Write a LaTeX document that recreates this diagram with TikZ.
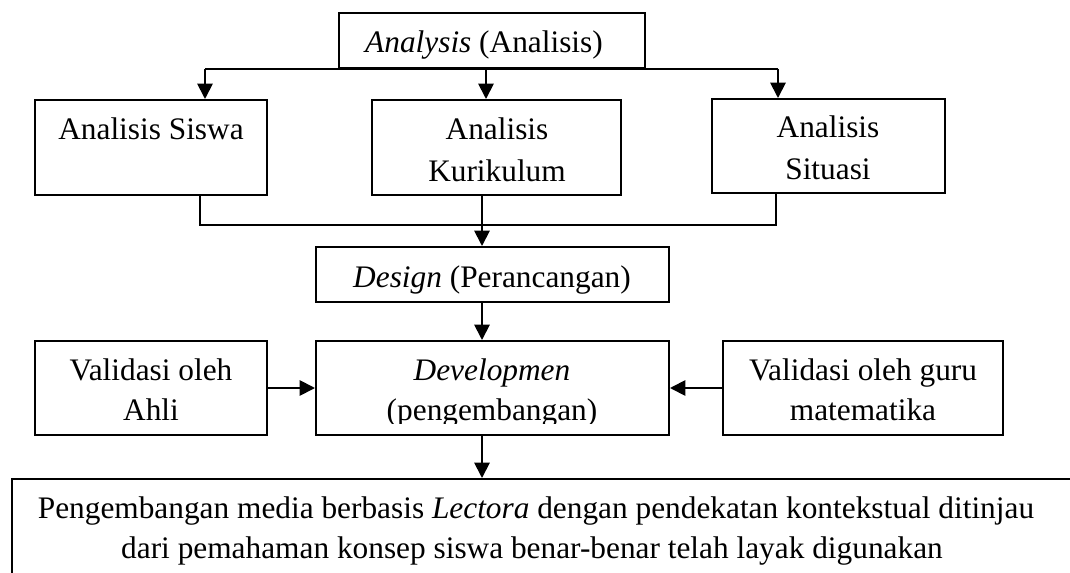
\documentclass[tikz,border=0pt]{standalone}
\usepackage{fontspec}
\setmainfont{Liberation Serif}
\usetikzlibrary{arrows.meta,fit}
\begin{document}
\begin{tikzpicture}[x=0.75pt,y=-0.75pt,
  box/.style={draw,line width=1.5pt,inner sep=0pt},
  txt/.style={inner sep=0pt,anchor=base,font=\fontsize{23.5}{30}\selectfont},
  ln/.style={line width=1.4pt},
  arr/.style={line width=1.4pt,-{Triangle[length=11.5pt,width=11.5pt]}}]
\useasboundingbox (0,0) rectangle (1070,573);
\clip (0,0) rectangle (1070,573);
% boxes
\node[box,fit={(339,13) (645,68)}] (an) {};
\node[box,fit={(35,100) (267,195)}] (siswa) {};
\node[box,fit={(372,100) (621,195)}] (kur) {};
\node[box,fit={(712,99) (945,193)}] (sit) {};
\node[box,fit={(316,247) (669,302)}] (des) {};
\node[box,fit={(35,341) (267,435)}] (ahli) {};
\node[box,fit={(316,341) (669,435)}] (dev) {};
\node[box,fit={(723,341) (1003,435)}] (guru) {};
\node[box,fit={(12,479) (1100,620)}] (bot) {};
% texts
\node[txt] (anT) at (484,53) {\textit{Analysis} (Analisis)};
\node[txt] (siswaT) at (151,140) {Analisis Siswa};
\node[txt] (kurA) at (497,140) {Analisis};
\node[txt] (kurB) at (497,182) {Kurikulum};
\node[txt] (sitA) at (828,138) {Analisis};
\node[txt] (sitB) at (828,180) {Situasi};
\node[txt] (desT) at (492,288) {\textit{Design} (Perancangan)};
\node[txt] (ahliA) at (151,380) {Validasi oleh};
\node[txt] (ahliB) at (151,420) {Ahli};
\node[txt] (devA) at (492,380) {\textit{Developmen}};
\begin{scope}
\clip (316,341) rectangle (669,423);
\node[txt] (devB) at (492,420) {(pengembangan)};
\end{scope}
\node[txt] (guruA) at (863,380) {Validasi oleh guru};
\node[txt] (guruB) at (863,420) {matematika};
\node[txt] (botA) at (536,518) {Pengembangan media berbasis \textit{Lectora} dengan pendekatan kontekstual ditinjau};
\node[txt] (botB) at (532,558) {dari pemahaman konsep siswa benar-benar telah layak digunakan};
% connectors
\coordinate (hl) at (205,69);
\coordinate (hk) at (486,69);
\coordinate (hr) at (778,69);
\draw[ln] (hl) -- (hr);
\draw[arr] (hl) -- (hl |- siswa.north);
\draw[arr] (hk) -- (hk |- kur.north);
\draw[arr] (hr) -- (hr |- sit.north);
\coordinate (ms) at (200,225);
\coordinate (mt) at (776,225);
\draw[ln] (siswa.south -| ms) -- (ms) -- (mt) -- (sit.south -| mt);
\coordinate (dx) at (482,0);
\draw[arr] (kur.south -| dx) -- (des.north -| dx);
\draw[arr] (des.south -| dx) -- (dev.north -| dx);
\draw[arr] (dev.south -| dx) -- (bot.north -| dx);
\draw[arr] (ahli.east) -- (dev.west |- ahli.east);
\draw[arr] (guru.west) -- (dev.east |- guru.west);
\end{tikzpicture}
\end{document}
